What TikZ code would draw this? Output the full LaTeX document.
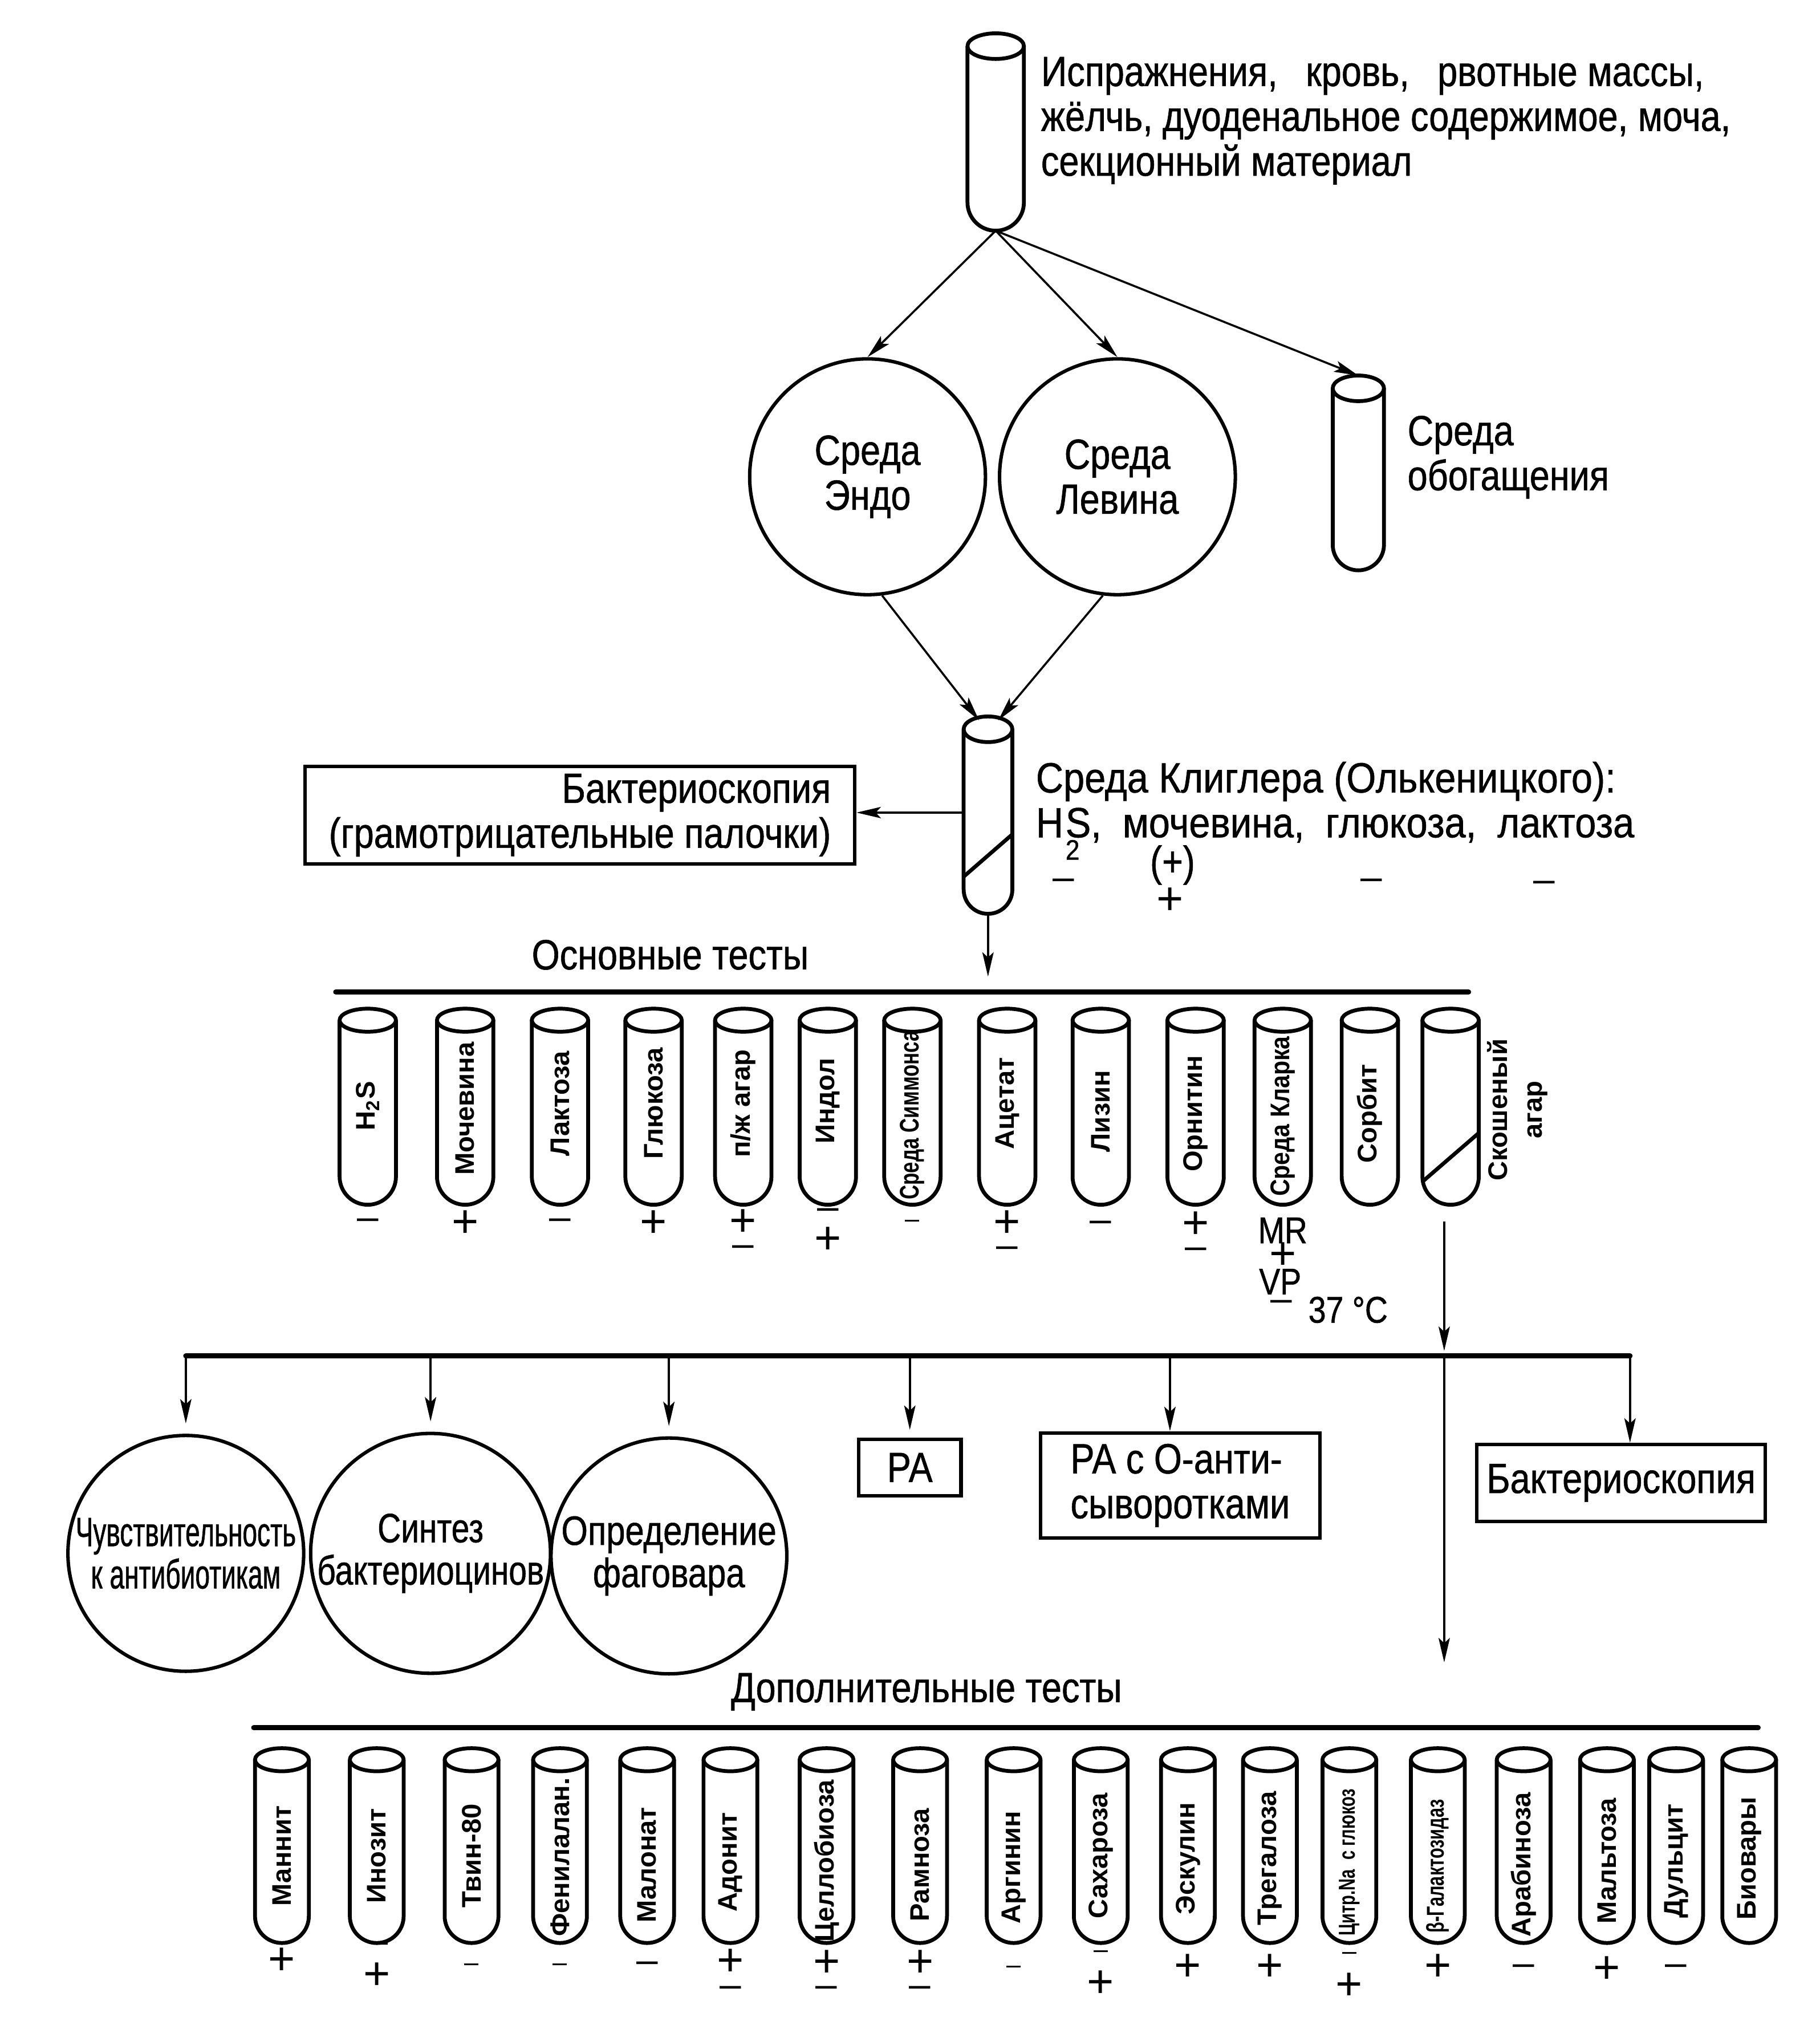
\documentclass[tikz,border=0pt]{standalone}
\usepackage{fontspec}
\setmainfont{Liberation Sans}
\newfontfamily\nf[FakeStretch=0.85,FakeBold=0.8]{Liberation Sans}
\newfontfamily\nfk[FakeStretch=0.9,FakeBold=0.8]{Liberation Sans}
\newfontfamily\cfa[FakeStretch=0.64,FakeBold=0.8]{Liberation Sans}
\newfontfamily\cfb[FakeStretch=0.79,FakeBold=0.8]{Liberation Sans}
\newfontfamily\cfc[FakeStretch=0.83,FakeBold=0.8]{Liberation Sans}
\newfontfamily\tnf[FakeStretch=0.74]{Liberation Sans}
\newfontfamily\tnfs[FakeStretch=0.72]{Liberation Sans}
\newfontfamily\tnfk[FakeStretch=0.87]{Liberation Sans}
\usetikzlibrary{arrows.meta,calc}

% test tube: name, cx, y of rim centre, y of bottom, rx, ry
\newcommand{\ttube}[6]{%
  \draw[tubeline] (#2,#3) ellipse[x radius=#5, y radius=#6];
  \draw[tubeline] ({#2-#5},#3) -- ({#2-#5},{#4-#5}) arc[start angle=180,end angle=0,radius=#5] -- ({#2+#5},#3);
  \node[tubebox, minimum width={#5*1pt}, minimum height={(#4-#3+#6)*0.5pt}] (#1) at (#2,{(#3-#6+#4)/2}) {};
}
\newcommand{\pl}[3]{\node[sgnp] (#1) at (#2,#3) {+};}
\newcommand{\mn}[3]{\node[sgnm] (#1) at (#2,#3) {–};}
\newcommand{\mns}[3]{\node[sgns] (#1) at (#2,#3) {–};}

\begin{document}
\begin{tikzpicture}[x=0.5pt,y=-0.5pt,
  tubeline/.style={line width=1.5pt, line join=round},
  tubebox/.style={rectangle, draw=none, inner sep=0pt, outer sep=0pt},
  arr/.style={line width=0.8pt,-{Stealth[length=9.5pt,width=4.4pt,inset=2pt]}},
  circ/.style={circle, draw, line width=1.35pt, minimum size=92pt, inner sep=0pt, align=center},
  box/.style={rectangle, draw, line width=1.4pt, inner sep=0pt, align=center, font=\nf\fontsize{16.5}{17.5}\selectfont},
  txt/.style={inner sep=0pt, font=\nf\fontsize{16.5}{17.5}\selectfont},
  sgn/.style={inner sep=0pt, font=\nf\fontsize{16.5}{17}\selectfont},
  sgnp/.style={inner sep=0pt, font=\fontsize{18}{18}\selectfont},
  sgnm/.style={inner sep=0pt, font=\fontsize{15}{15}\selectfont},
  sgns/.style={inner sep=0pt, font=\fontsize{10}{10}\selectfont},
  sml/.style={inner sep=0pt, font=\nf\fontsize{14.5}{14.5}\selectfont},
  tlab/.style={rotate=90, inner sep=0pt, font=\bfseries\fontsize{10.5}{12}\selectfont},
  tlabn/.style={rotate=90, inner sep=0pt, font=\tnf\bfseries\fontsize{10.5}{12}\selectfont},
  hrule/.style={line width=2pt, line cap=round}]

\fill[white] (0,0) rectangle (1420,1580);
\useasboundingbox (0,0) rectangle (1420,1580);

% ---------- source ----------
\ttube{src}{777}{36}{180}{22}{10}
\node[txt, anchor=north west, align=left] (srctext) at (812,44)
  {Испражнения,\hspace{11pt}кровь,\hspace{11pt}рвотные массы,\\жёлчь, дуоденальное содержимое, моча,\\секционный материал};

\node[circ, font=\nf\fontsize{16.5}{17.5}\selectfont] (endo) at (677,372) {Среда\\Эндо};
\node[circ, font=\nf\fontsize{16.5}{17.5}\selectfont] (levin) at (872,372) {Среда\\Левина};
\ttube{enr}{1060}{303}{445}{20}{10}
\node[txt, anchor=north west, align=left] (enrtext) at (1098,324) {Среда\\обогащения};

\draw[arr] (src.south) -- (endo.north);
\draw[arr] (src.south) -- (levin.north);
\draw[arr] (src.south) -- (enr.north);

% ---------- Kligler ----------
\ttube{kl}{771}{569}{713}{19}{10}
\draw[tubeline] (752,684) -- (790,651);
\coordinate (kla) at (764,562);
\coordinate (klb) at (779,562);
\draw[arr] (endo.-83) -- (kla);
\draw[arr] (levin.-97) -- (klb);

\node[box, minimum width=214.5pt, minimum height=38pt, align=right] (bakt1) at (452.5,636)
  {Бактериоскопия\\(грамотрицательные палочки)};
\coordinate (klw) at (752,634);
\draw[arr] (klw) -- (klw -| bakt1.east);

\node[inner sep=0pt, font=\nfk\fontsize{16.5}{17.5}\selectfont, anchor=north west, align=left] (kltext) at (808,594)
  {Среда Клиглера (Олькеницкого):\\H\kern0.05em\rlap{\raisebox{-1ex}{\fontsize{11}{11}\selectfont 2}}S,\ \ мочевина,\ \ глюкоза,\ \ лактоза};
\node[sgn] (klp) at (915,675) {(+)};
\mn{ks1}{830}{690}
\pl{ks2}{913}{703}
\mn{ks3}{1070}{690}
\mn{ks4}{1205}{692}

\coordinate (kld) at (771,762);
\draw[arr] (kl.south) -- (kld);

% ---------- main tests ----------
\node[txt] (osn) at (523,745) {Основные тесты};
\coordinate (r1a) at (262,774);
\coordinate (r1b) at (1146,774);
\draw[hrule] (r1a) -- (r1b);

\ttube{m1}{287}{796}{940}{22}{9}
\ttube{m2}{363}{796}{940}{22}{9}
\ttube{m3}{437}{796}{940}{22}{9}
\ttube{m4}{510}{796}{940}{22}{9}
\ttube{m5}{580}{796}{940}{22}{9}
\ttube{m6}{646}{796}{940}{22}{9}
\ttube{m7}{712}{796}{940}{22}{9}
\ttube{m8}{786}{796}{940}{22}{9}
\ttube{m9}{859}{796}{940}{22}{9}
\ttube{m10}{933}{796}{940}{22}{9}
\ttube{m11}{1001}{796}{940}{22}{9}
\ttube{m12}{1069}{796}{940}{22}{9}
\ttube{m13}{1132}{796}{940}{22}{9}
\draw[tubeline] (1110,922) -- (1154,884);

\node[tlab] (ml1) at (287,863) {H\textsubscript{2}S};
\node[tlab] (ml2) at (363,865) {Мочевина};
\node[tlab] (ml3) at (437,861) {Лактоза};
\node[tlab] (ml4) at (510,861) {Глюкоза};
\node[tlab] (ml5) at (580,861) {п/ж агар};
\node[tlab] (ml6) at (646,859) {Индол};
\node[tlabn] (ml7) at (712,870) {Среда Симмонса};
\node[tlab] (ml8) at (786,861) {Ацетат};
\node[tlab] (ml9) at (859,867) {Лизин};
\node[tlab] (ml10) at (933,869) {Орнитин};
\node[rotate=90, inner sep=0pt, font=\tnfk\bfseries\fontsize{10.5}{12}\selectfont] (ml11) at (1001,871) {Среда Кларка};
\node[tlab] (ml12) at (1069,869) {Сорбит};
\node[rotate=90, inner sep=0pt, align=center, font=\bfseries\fontsize{10.5}{13.5}\selectfont] (ml13) at (1184,866) {Скошеный\\агар};

\mn{ms1}{287}{955}
\pl{ms2}{363}{955}
\mn{ms3}{437}{955}
\pl{ms4}{510}{955}
\pl{ms5a}{580}{954}
\mn{ms5b}{580}{976}
\mn{ms6a}{646}{947}
\pl{ms6b}{646}{968}
\mns{ms7}{712}{955}
\pl{ms8a}{786}{955}
\mn{ms8b}{786}{977}
\mn{ms9}{859}{957}
\pl{ms10a}{933}{956}
\mn{ms10b}{933}{978}
\node[sml] (mr) at (1001,960) {MR};
\pl{ms11a}{1001}{980}
\node[sml] (vp) at (999,1000) {VP};
\mn{ms11b}{1000}{1019}
\node[sml] (deg) at (1052,1022) {37~°C};

% ---------- branching ----------
\coordinate (sk) at (1127,953);
\coordinate (br1) at (145,1058);
\coordinate (br2) at (336,1058);
\coordinate (br3) at (522,1058);
\coordinate (br4) at (710,1058);
\coordinate (br5) at (913,1058);
\coordinate (br6) at (1127,1058);
\coordinate (br7) at (1272,1058);
\draw[arr, shorten >=2pt] (sk) -- (br6);
\draw[hrule] (br1) -- (br7);

\node[circ, font=\cfa\fontsize{16}{16.5}\selectfont] (c1) at (145,1212) {Чувствительность\\к антибиотикам};
\node[circ, font=\cfb\fontsize{16}{16.5}\selectfont] (c2) at (336,1212) {Синтез\\бактериоцинов};
\node[circ, font=\cfc\fontsize{16}{16.5}\selectfont] (c3) at (522,1214) {Определение\\фаговара};
\node[box, minimum width=40pt, minimum height=22pt] (ra) at (710,1145) {РА};
\node[box, minimum width=109pt, minimum height=41pt, align=left] (rao) at (921,1159) {РА с О-анти-\\сыворотками};
\node[box, minimum width=112.5pt, minimum height=30pt] (bakt2) at (1265,1157) {Бактериоскопия};

\draw[arr, shorten >=4pt] (br1) -- (c1.north);
\draw[arr, shorten >=4pt] (br2) -- (c2.north);
\draw[arr, shorten >=4pt] (br3) -- (c3.north);
\draw[arr, shorten >=3pt] (br4) -- (ra.north);
\draw[arr] (br5) -- (br5 |- rao.north);
\draw[arr] (br7) -- (br7 |- bakt2.north);
\coordinate (addarr) at (1127,1297);
\draw[arr] (br6) -- (addarr);

% ---------- additional tests ----------
\node[txt] (dop) at (723,1320) {Дополнительные тесты};
\coordinate (r2a) at (198,1348);
\coordinate (r2b) at (1372,1348);
\draw[hrule] (r2a) -- (r2b);

\ttube{a1}{220}{1373}{1516}{21}{9}
\ttube{a2}{294}{1373}{1516}{21}{9}
\ttube{a3}{368}{1373}{1516}{21}{9}
\ttube{a4}{437}{1373}{1516}{21}{9}
\ttube{a5}{505}{1373}{1516}{21}{9}
\ttube{a6}{570}{1373}{1516}{21}{9}
\ttube{a7}{645}{1373}{1516}{21}{9}
\ttube{a8}{718}{1373}{1516}{21}{9}
\ttube{a9}{791}{1373}{1516}{21}{9}
\ttube{a10}{859}{1373}{1516}{21}{9}
\ttube{a11}{927}{1373}{1516}{21}{9}
\ttube{a12}{991}{1373}{1516}{21}{9}
\ttube{a13}{1053}{1373}{1516}{21}{9}
\ttube{a14}{1122}{1373}{1516}{21}{9}
\ttube{a15}{1189}{1373}{1516}{21}{9}
\ttube{a16}{1254}{1373}{1516}{21}{9}
\ttube{a17}{1308}{1373}{1516}{21}{9}
\ttube{a18}{1365}{1373}{1516}{21}{9}

\node[tlab] (al1) at (220,1448) {Маннит};
\node[tlab] (al2) at (294,1448) {Инозит};
\node[tlab] (al3) at (368,1448) {Твин-80};
\node[tlab] (al4) at (437,1449) {Фенилалан.};
\node[tlab] (al5) at (505,1455) {Малонат};
\node[tlab] (al6) at (570,1453) {Адонит};
\node[tlab] (al7) at (645,1452) {Целлобиоза};
\node[tlab] (al8) at (718,1455) {Рамноза};
\node[tlab] (al9) at (791,1457) {Аргинин};
\node[tlab] (al10) at (859,1448) {Сахароза};
\node[tlab] (al11) at (927,1450) {Эскулин};
\node[tlab] (al12) at (991,1450) {Трегалоза};
\node[rotate=90, inner sep=0pt, font=\tnfs\bfseries\fontsize{9}{10}\selectfont] (al13) at (1053,1453) {Цитр.Na\ \ с глюкоз};
\node[rotate=90, inner sep=0pt, font=\tnfs\bfseries\fontsize{9.5}{10}\selectfont] (al14) at (1122,1456) {β-Галактозидаз};
\node[tlab] (al15) at (1189,1455) {Арабиноза};
\node[tlab] (al16) at (1254,1452) {Мальтоза};
\node[tlab] (al17) at (1308,1452) {Дульцит};
\node[tlab] (al18) at (1365,1450) {Биовары};

\pl{as1}{220}{1530}
\mns{as2a}{297}{1519}
\pl{as2b}{294}{1542}
\mns{as3}{368}{1535}
\mns{as4}{437}{1535}
\mn{as5}{505}{1535}
\pl{as6a}{570}{1531}
\mn{as6b}{570}{1554}
\pl{as7a}{645}{1532}
\mn{as7b}{645}{1554}
\pl{as8a}{718}{1532}
\mn{as8b}{718}{1554}
\mns{as9}{791}{1537}
\mns{as10a}{859}{1525}
\pl{as10b}{859}{1548}
\pl{as11}{927}{1535}
\pl{as12}{991}{1535}
\mns{as13a}{1053}{1526}
\pl{as13b}{1053}{1550}
\pl{as14}{1122}{1535}
\mn{as15}{1189}{1537}
\pl{as16}{1254}{1537}
\mn{as17}{1308}{1537}

\end{tikzpicture}
\end{document}
